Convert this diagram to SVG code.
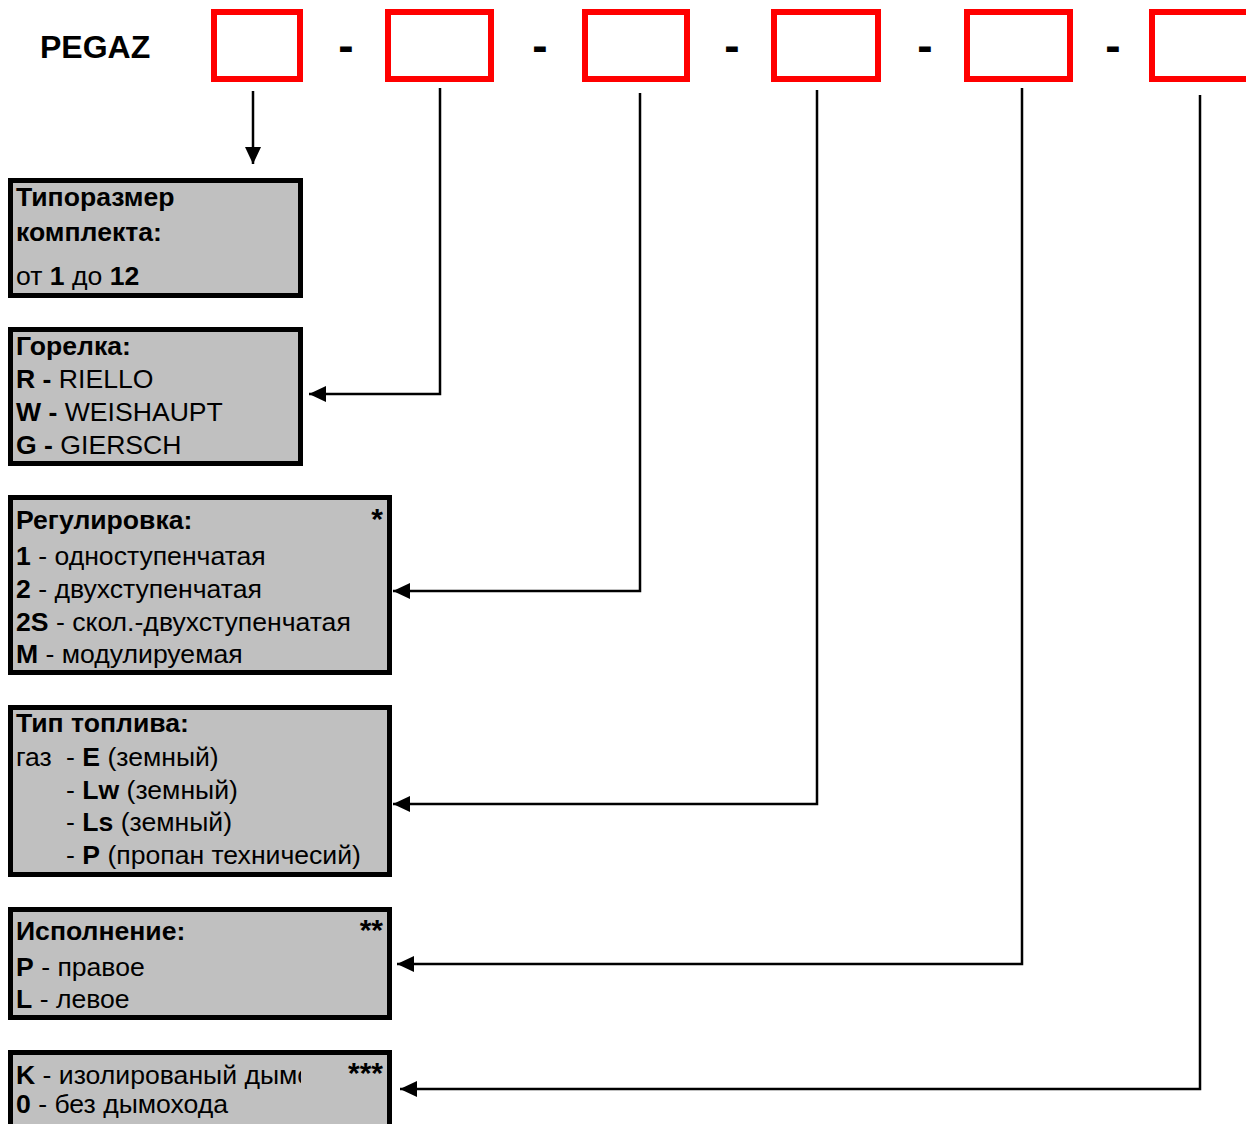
<svg xmlns="http://www.w3.org/2000/svg" width="1246" height="1124" viewBox="0 0 1246 1124">
<style>
.code{fill:none;stroke:#ff0000;stroke-width:6}
.box{fill:#c0c0c0;stroke:#000;stroke-width:5}
.t{font-family:"Liberation Sans",Arial,sans-serif;font-size:26.6px;fill:#000}
.b{font-weight:bold}
.title{font-family:"Liberation Sans",Arial,sans-serif;font-size:32px;font-weight:bold;fill:#000}
.dash{font-family:"Liberation Sans",Arial,sans-serif;font-size:46px;font-weight:bold;fill:#000;text-anchor:middle}
.conn{fill:none;stroke:#000;stroke-width:2.5}
.star{font-family:"Liberation Sans",Arial,sans-serif;font-size:30px;font-weight:bold;text-anchor:end}
</style>
<defs>
<marker id="ah" viewBox="0 0 17 16" refX="17" refY="8" markerWidth="17" markerHeight="16" markerUnits="userSpaceOnUse" orient="auto">
<path d="M0,0 L17,8 L0,16 Z" fill="#000"/>
</marker>
<clipPath id="clipF"><rect x="0" y="1050" width="301" height="74"/></clipPath>
</defs>
<rect width="1246" height="1124" fill="#fff"/>
<g id="header">
<text class="title" x="40" y="58">PEGAZ</text>
<rect class="code" x="214" y="12" width="86" height="67"/>
<rect class="code" x="388" y="12" width="103" height="67"/>
<rect class="code" x="585" y="12" width="102" height="67"/>
<rect class="code" x="774" y="12" width="104" height="67"/>
<rect class="code" x="967" y="12" width="103" height="67"/>
<rect class="code" x="1152" y="12" width="110" height="67"/>
<text class="dash" x="346" y="61">-</text>
<text class="dash" x="540" y="61">-</text>
<text class="dash" x="732" y="61">-</text>
<text class="dash" x="925" y="61">-</text>
<text class="dash" x="1113" y="61">-</text>
</g>
<g id="connectors">
<path class="conn" d="M253,91 V164" marker-end="url(#ah)"/>
<path class="conn" d="M440,88 V394 H309" marker-end="url(#ah)"/>
<path class="conn" d="M640,93 V591 H393" marker-end="url(#ah)"/>
<path class="conn" d="M817,90 V804 H393" marker-end="url(#ah)"/>
<path class="conn" d="M1022,88 V964 H397" marker-end="url(#ah)"/>
<path class="conn" d="M1200,95 V1089 H400" marker-end="url(#ah)"/>
</g>
<g id="size">
<rect class="box" x="10.5" y="180.5" width="290" height="115"/>
<text class="t b" x="16" y="206">Типоразмер</text>
<text class="t b" x="16" y="241">комплекта:</text>
<text class="t" x="16" y="285">от <tspan class="b">1</tspan> до <tspan class="b">12</tspan></text>
</g>
<g id="burner">
<rect class="box" x="10.5" y="329.5" width="290" height="134"/>
<text class="t b" x="16" y="355">Горелка:</text>
<text class="t" x="16" y="388"><tspan class="b">R - </tspan>RIELLO</text>
<text class="t" x="16" y="421"><tspan class="b">W - </tspan>WEISHAUPT</text>
<text class="t" x="16" y="454"><tspan class="b">G - </tspan>GIERSCH</text>
</g>
<g id="regulation">
<rect class="box" x="10.5" y="497.5" width="379" height="175"/>
<text class="t b" x="16" y="529">Регулировка:</text>
<text class="star" x="383" y="529">*</text>
<text class="t" x="16" y="565"><tspan class="b">1</tspan> - одноступенчатая</text>
<text class="t" x="16" y="598"><tspan class="b">2</tspan> - двухступенчатая</text>
<text class="t" x="16" y="631"><tspan class="b">2S</tspan> - скол.-двухступенчатая</text>
<text class="t" x="16" y="663"><tspan class="b">M</tspan> - модулируемая</text>
</g>
<g id="fuel">
<rect class="box" x="10.5" y="707.5" width="379" height="167"/>
<text class="t b" x="16" y="732">Тип топлива:</text>
<text class="t" x="16" y="766">газ<tspan x="66">- </tspan><tspan class="b">E</tspan> (земный)</text>
<text class="t" x="66" y="799">- <tspan class="b">Lw</tspan> (земный)</text>
<text class="t" x="66" y="831">- <tspan class="b">Ls</tspan> (земный)</text>
<text class="t" x="66" y="864">- <tspan class="b">P</tspan> (пропан техничесий)</text>
</g>
<g id="version">
<rect class="box" x="10.5" y="909.5" width="379" height="108"/>
<text class="t b" x="16" y="940">Исполнение:</text>
<text class="star" x="383" y="940">**</text>
<text class="t" x="16" y="976"><tspan class="b">P</tspan> - правое</text>
<text class="t" x="16" y="1008"><tspan class="b">L</tspan> - левое</text>
</g>
<g id="chimney">
<rect class="box" x="10.5" y="1052.5" width="379" height="80"/>
<text class="t" x="16" y="1084" clip-path="url(#clipF)"><tspan class="b">K</tspan> - изолированый дымо</text>
<text class="star" x="383" y="1083">***</text>
<text class="t" x="16" y="1113"><tspan class="b">0</tspan> - без дымохода</text>
</g>
</svg>
